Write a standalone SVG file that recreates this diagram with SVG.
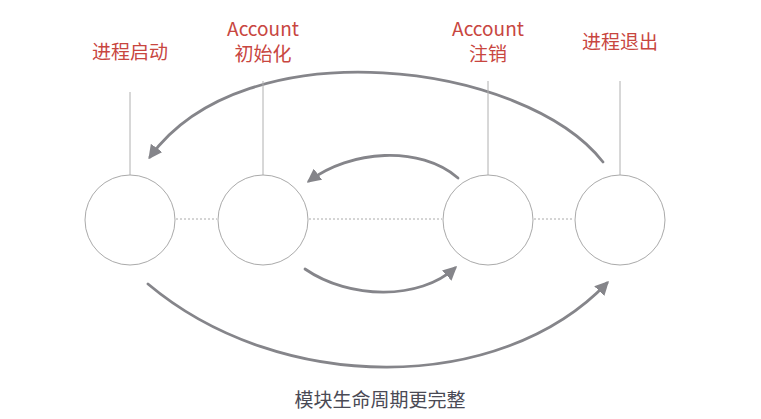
<svg xmlns="http://www.w3.org/2000/svg" width="761" height="419" viewBox="0 0 761 419">
<defs>
<marker id="ah" viewBox="0 0 10 10" refX="8" refY="5" markerWidth="5" markerHeight="5" orient="auto" markerUnits="strokeWidth">
<path d="M0,0 L10,5 L0,10 Z" fill="#85858a"/>
</marker>
<style>
.lbl{font-family:"Noto Sans CJK SC","Noto Sans",sans-serif;font-size:19px;fill:#c8463f;text-anchor:middle}
.cap{font-family:"Noto Sans CJK SC","Noto Sans",sans-serif;font-size:19px;fill:#4a4a55;text-anchor:middle}
.node{fill:#fff;stroke:#aaa;stroke-width:1}
.stem{stroke:#b0b0b0;stroke-width:1}
.dot{stroke:#aaa;stroke-width:1;stroke-dasharray:2 2}
.arr{fill:none;stroke:#85858a;stroke-width:2.8;stroke-linecap:round;marker-end:url(#ah)}
</style>
</defs>
<rect width="761" height="419" fill="#fff"/>
<g id="connectors">
<line class="dot" x1="176" y1="219" x2="217" y2="219"/>
<line class="dot" x1="309" y1="219" x2="442" y2="219"/>
<line class="dot" x1="534" y1="219" x2="574" y2="219"/>
<path class="arr" d="M603,162 C525,62 245,26 150,157"/>
<path class="arr" d="M458,178 C420,145 350,150 309,181"/>
<path class="arr" d="M305,269 C350,300 420,300 455,268"/>
<path class="arr" d="M148,284 C280,395 500,395 607,283"/>
</g>
<g id="node-start">
<line class="stem" x1="130" y1="92" x2="130" y2="175"/>
<ellipse class="node" cx="130" cy="220" rx="45" ry="45"/>
<text class="lbl" x="130" y="59">进程启动</text>
</g>
<g id="node-init">
<line class="stem" x1="263" y1="81" x2="263" y2="175"/>
<ellipse class="node" cx="263" cy="220" rx="45" ry="45"/>
<text class="lbl" x="263" y="36">Account</text>
<text class="lbl" x="263" y="61">初始化</text>
</g>
<g id="node-logout">
<line class="stem" x1="488" y1="81" x2="488" y2="175"/>
<ellipse class="node" cx="488" cy="220" rx="45" ry="45"/>
<text class="lbl" x="488" y="36">Account</text>
<text class="lbl" x="488" y="61">注销</text>
</g>
<g id="node-exit">
<line class="stem" x1="620" y1="81" x2="620" y2="175"/>
<ellipse class="node" cx="620" cy="220" rx="45" ry="45"/>
<text class="lbl" x="620" y="49">进程退出</text>
</g>
<g id="caption">
<text class="cap" x="380" y="407">模块生命周期更完整</text>
</g>
</svg>
